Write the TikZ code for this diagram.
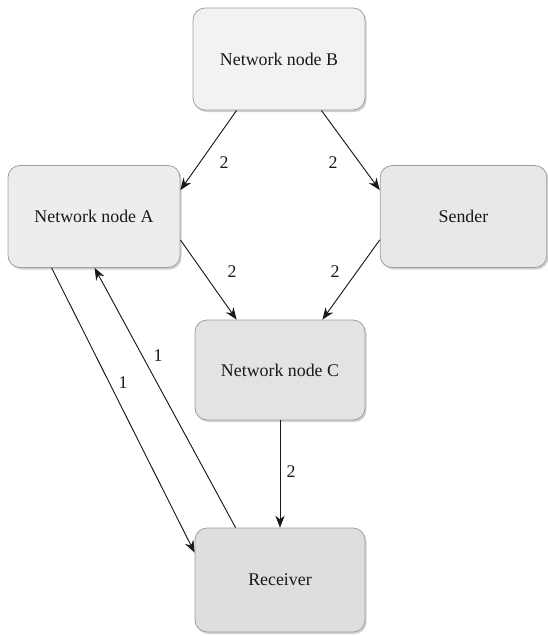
\documentclass[tikz,border=0pt]{standalone}
\usepackage{fontspec}
\setmainfont{Liberation Serif}
\usetikzlibrary{arrows.meta,calc,shadows}
\begin{document}
\begin{tikzpicture}[x=0.75pt,y=-0.75pt,
  box/.style={draw=black!38, line width=0.6pt, rounded corners=9pt,
    minimum width=129pt, minimum height=76.5pt, inner sep=0pt,
    text=black!90, font=\fontsize{13.4}{15}\selectfont,
    drop shadow={shadow xshift=1.2pt, shadow yshift=-1.5pt, opacity=0.18, fill=black}},
  arr/.style={-{Stealth[length=9pt,width=7pt]}, line width=0.7pt, draw=black!90},
  lbl/.style={font=\fontsize{13.4}{15}\selectfont, text=black!90, inner sep=0pt}]
\useasboundingbox (0,0) rectangle (548,636);

% network elements
\node[box, fill=black!5] (B) at (279,59) {Network node B};
\node[box, fill=black!7] (A) at (94,216.5) {Network node A};
\node[box, fill=black!9, minimum width=125pt] (S) at (463.5,216.5) {Sender};
\node[box, fill=black!11, minimum width=127.5pt, minimum height=75pt] (C) at (280,370) {Network node C};
\node[box, fill=black!13, minimum width=127.5pt, minimum height=78pt] (R) at (280,580) {Receiver};

% links
\draw[arr] ($(B.south west)+(44,0)$) -- ($(A.north east)+(0,25)$);
\draw[arr] ($(B.south east)+(-44,0)$) -- ($(S.north west)+(0,25)$);
\draw[arr] ($(A.south east)+(0,-28)$) -- ($(C.north west)+(42,0)$);
\draw[arr] ($(S.south west)+(0,-28)$) -- ($(C.north east)+(-43,0)$);
\draw[arr] (C.south) -- (R.north);
\draw[arr] ($(A.south west)+(44,0)$) -- ($(R.north west)+(0,25)$);
\draw[arr] ($(R.north west)+(41,0)$) -- ($(A.south west)+(87,0)$);

% link weights
\node[lbl] (w1) at (224,163) {2};
\node[lbl] (w2) at (333,163) {2};
\node[lbl] (w3) at (232,272) {2};
\node[lbl] (w4) at (335,272) {2};
\node[lbl] (w5) at (291,472) {2};
\node[lbl] (w6) at (123,383) {1};
\node[lbl] (w7) at (158,356) {1};
\end{tikzpicture}
\end{document}
